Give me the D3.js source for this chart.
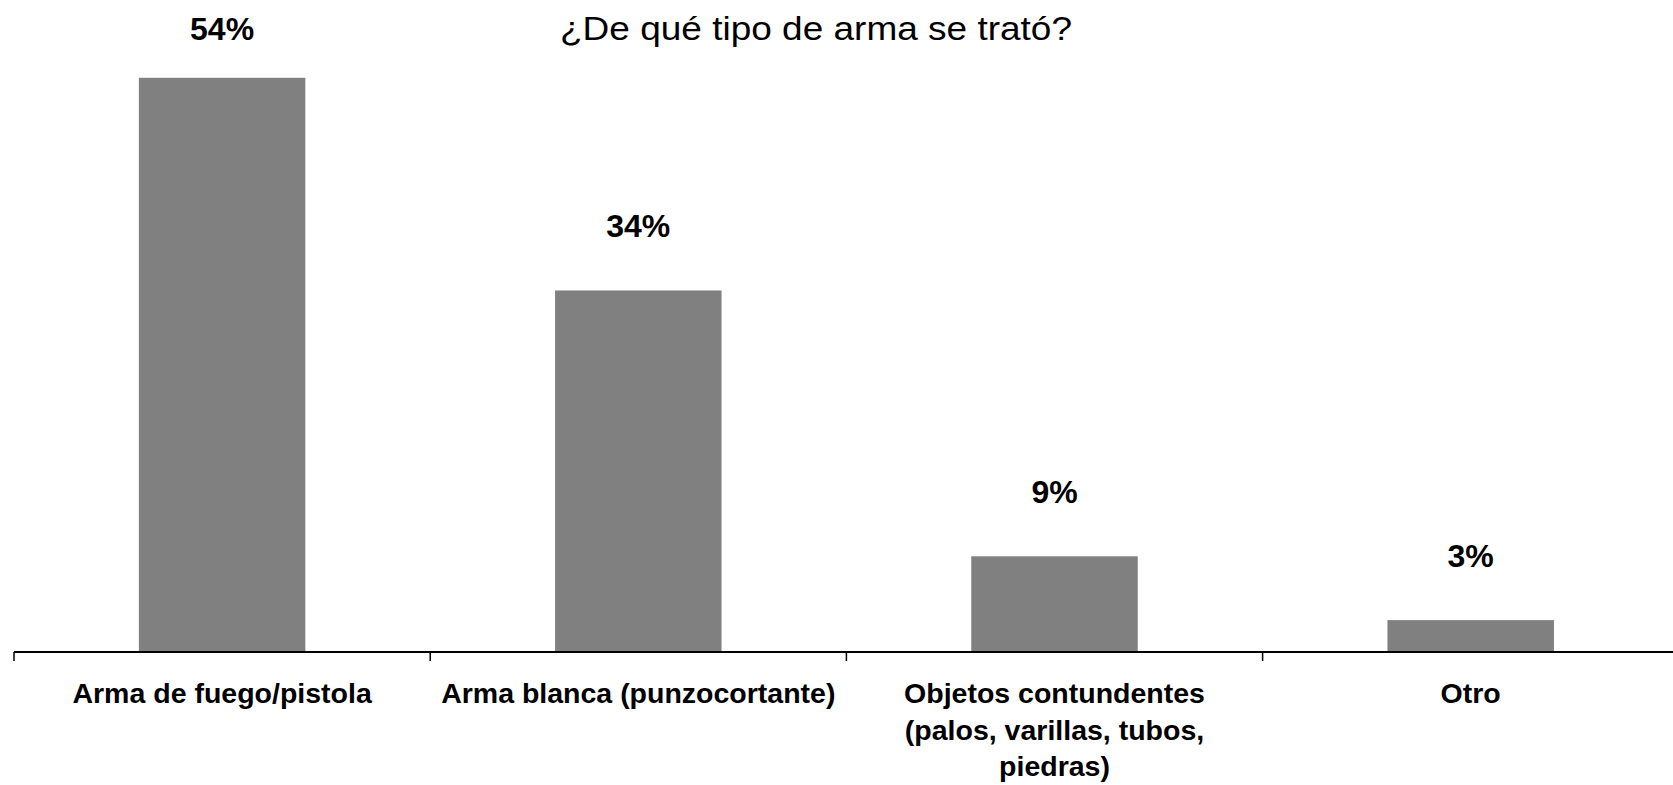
<!DOCTYPE html>
<html>
<head>
<meta charset="utf-8">
<script src="https://cdn.jsdelivr.net/npm/d3@7"></script>
<style>
  html, body { margin: 0; padding: 0; background: #fff; }
  svg { display: block; }
  text { font-family: Arial, "Liberation Sans", sans-serif; fill: #000; }
</style>
</head>
<body>
<svg id="chart" width="1673" height="785"></svg>
<script>
const title = "¿De qué tipo de arma se trató?";
const categories = [
  "Arma de fuego/pistola",
  "Arma blanca (punzocortante)",
  "Objetos contundentes\n(palos, varillas, tubos,\npiedras)",
  "Otro"
];
const values = [54, 34, 9, 3];
const valueLabels = ["54%", "34%", "9%", "3%"];

const W = 1673, H = 785;
const svg = d3.select("#chart");

const x = d3.scaleBand()
  .domain(categories)
  .range([14, 14 + 4 * 416.2])
  .paddingInner(0.6)
  .paddingOuter(0.3);

const y = d3.scaleLinear().domain([0, 60]).range([652, 14]);

// title
svg.append("text")
  .attr("x", 816)
  .attr("y", 40)
  .attr("text-anchor", "middle")
  .attr("font-size", 33)
  .attr("textLength", 512)
  .attr("lengthAdjust", "spacingAndGlyphs")
  .text(title);

// bars
svg.append("g").selectAll("rect")
  .data(values)
  .join("rect")
  .attr("x", (d, i) => x(categories[i]))
  .attr("y", d => y(d))
  .attr("width", x.bandwidth())
  .attr("height", d => y(0) - y(d))
  .attr("fill", "#808080");

// value labels
svg.append("g").selectAll("text")
  .data(values)
  .join("text")
  .attr("x", (d, i) => x(categories[i]) + x.bandwidth() / 2)
  .attr("y", d => Math.max(40, y(d) - 53))
  .attr("text-anchor", "middle")
  .attr("font-size", 32)
  .attr("font-weight", "bold")
  .text((d, i) => valueLabels[i]);

// axis
const axis = d3.axisBottom(x).tickSize(8).tickFormat("");
const gAxis = svg.append("g").attr("transform", `translate(0,${y(0)})`);
gAxis.call(axis);
gAxis.select(".domain").remove();
gAxis.selectAll(".tick").remove();
const step = x.step();
const r0 = x.range()[0];
const bounds = d3.range(categories.length + 1).map(i => r0 + i * step);
gAxis.append("line")
  .attr("x1", bounds[0]).attr("x2", W)
  .attr("y1", 0).attr("y2", 0)
  .attr("stroke", "#000").attr("stroke-width", 2);
gAxis.selectAll("line.bt")
  .data(bounds)
  .join("line")
  .attr("class", "bt")
  .attr("x1", d => d).attr("x2", d => d)
  .attr("y1", 0).attr("y2", 9)
  .attr("stroke", "#000").attr("stroke-width", 1.5);

// category labels
const lab = svg.append("g").selectAll("text")
  .data(categories)
  .join("text")
  .attr("x", d => x(d) + x.bandwidth() / 2)
  .attr("y", 703)
  .attr("text-anchor", "middle")
  .attr("font-size", 28.5)
  .attr("font-weight", "bold");
lab.each(function(d) {
  const t = d3.select(this);
  d.split("\n").forEach((line, i) => {
    t.append("tspan")
      .attr("x", t.attr("x"))
      .attr("dy", i === 0 ? 0 : 36.5)
      .text(line);
  });
});
</script>
</body>
</html>
